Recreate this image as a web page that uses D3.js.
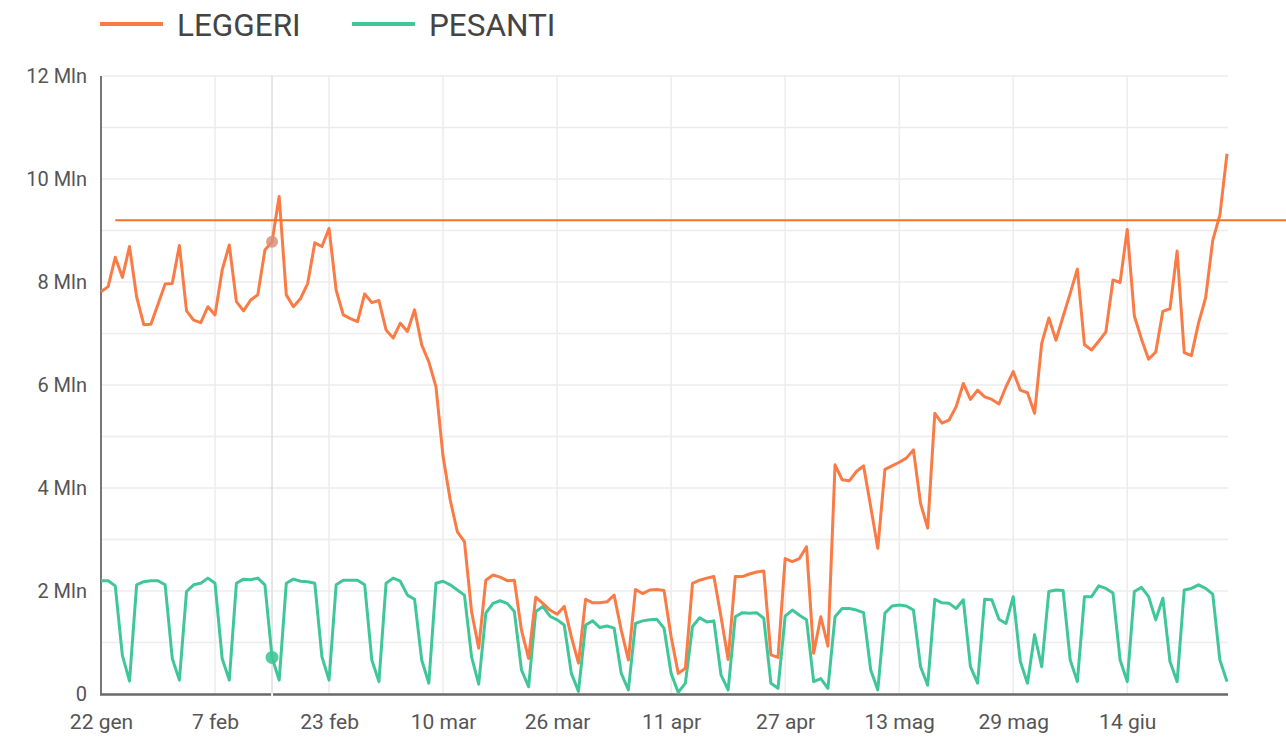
<!DOCTYPE html>
<html><head><meta charset="utf-8">
<script src="https://cdn.jsdelivr.net/npm/d3@7"></script>
<style>
body{margin:0;background:#fff}
svg{display:block;font-family:Roboto,"Noto Sans",sans-serif}
</style>
</head><body>
<svg id="chart" width="1286" height="739"></svg>
<script>
// ---- data ----
const startDate = "2020-01-22";
const endDate = "2020-06-28";
const seriesNames = ["LEGGERI", "PESANTI"];
const leggeri = [
  7.81, 7.91, 8.48, 8.09, 8.69, 7.71, 7.17, 7.18, 7.57, 7.96,
  7.97, 8.71, 7.44, 7.26, 7.21, 7.52, 7.36, 8.23, 8.72, 7.62,
  7.44, 7.65, 7.75, 8.62, 8.78, 9.66, 7.75, 7.52, 7.68, 7.97,
  8.76, 8.69, 9.04, 7.84, 7.36, 7.29, 7.23, 7.77, 7.60, 7.64,
  7.07, 6.91, 7.20, 7.04, 7.46, 6.78, 6.45, 5.97, 4.61, 3.77,
  3.15, 2.96, 1.60, 0.89, 2.21, 2.31, 2.27, 2.20, 2.21, 1.24,
  0.69, 1.88, 1.76, 1.63, 1.55, 1.70, 1.11, 0.60, 1.84, 1.77,
  1.77, 1.79, 1.92, 1.24, 0.66, 2.03, 1.95, 2.02, 2.03, 2.01,
  1.11, 0.40, 0.50, 2.15, 2.21, 2.25, 2.28, 1.50, 0.67, 2.28,
  2.28, 2.33, 2.37, 2.39, 0.76, 0.71, 2.63, 2.57, 2.63, 2.86,
  0.79, 1.50, 0.93, 4.45, 4.16, 4.14, 4.32, 4.43, 3.64, 2.83,
  4.36, 4.43, 4.50, 4.58, 4.74, 3.70, 3.22, 5.45, 5.26, 5.32,
  5.58, 6.03, 5.72, 5.90, 5.77, 5.72, 5.63, 5.97, 6.26, 5.90,
  5.85, 5.45, 6.81, 7.30, 6.87, 7.33, 7.78, 8.25, 6.78, 6.68,
  6.85, 7.03, 8.04, 7.99, 9.02, 7.34, 6.89, 6.50, 6.64, 7.43,
  7.48, 8.60, 6.63, 6.57, 7.20, 7.69, 8.81, 9.30, 10.49
];
const pesanti = [
  2.20, 2.20, 2.10, 0.75, 0.25, 2.12, 2.18, 2.20, 2.20, 2.12,
  0.69, 0.27, 1.99, 2.12, 2.15, 2.25, 2.15, 0.69, 0.27, 2.15,
  2.23, 2.22, 2.25, 2.12, 0.71, 0.27, 2.15, 2.23, 2.19, 2.18,
  2.15, 0.72, 0.27, 2.12, 2.21, 2.21, 2.21, 2.12, 0.66, 0.24,
  2.15, 2.25, 2.19, 1.92, 1.84, 0.66, 0.21, 2.15, 2.19, 2.12,
  2.02, 1.92, 0.72, 0.19, 1.57, 1.76, 1.81, 1.76, 1.60, 0.47,
  0.14, 1.60, 1.70, 1.51, 1.44, 1.34, 0.40, 0.05, 1.34, 1.42,
  1.29, 1.32, 1.28, 0.40, 0.08, 1.37, 1.42, 1.44, 1.45, 1.28,
  0.40, 0.03, 0.21, 1.31, 1.48, 1.40, 1.42, 0.37, 0.08, 1.50,
  1.58, 1.57, 1.58, 1.47, 0.21, 0.11, 1.51, 1.63, 1.53, 1.44,
  0.24, 0.30, 0.11, 1.50, 1.66, 1.66, 1.63, 1.58, 0.47, 0.08,
  1.57, 1.71, 1.73, 1.71, 1.63, 0.53, 0.17, 1.84, 1.77, 1.76,
  1.66, 1.83, 0.53, 0.21, 1.84, 1.83, 1.45, 1.37, 1.89, 0.63,
  0.21, 1.15, 0.53, 1.99, 2.02, 2.01, 0.66, 0.24, 1.89, 1.89,
  2.10, 2.05, 1.96, 0.66, 0.24, 1.99, 2.07, 1.89, 1.44, 1.86,
  0.63, 0.24, 2.02, 2.05, 2.12, 2.05, 1.94, 0.66, 0.24
];
const tickDates = ["2020-01-22","2020-02-07","2020-02-23","2020-03-10","2020-03-26",
                   "2020-04-11","2020-04-27","2020-05-13","2020-05-29","2020-06-14"];
const gridValues = [0,1,2,3,4,5,6,7,8,9,10,11,12];
const labelValues = [0,2,4,6,8,10,12];
const refValue = 9.2;
const refStart = "2020-01-24";
const hoverDate = "2020-02-15";

// ---- setup ----
const W = 1286, H = 739;
const plot = {left: 101, right: 1227, top: 76, bottom: 694};
const parse = d3.timeParse("%Y-%m-%d");
const dates = d3.timeDay.range(parse(startDate), d3.timeDay.offset(parse(endDate), 1));

const it = d3.timeFormatLocale({
  dateTime: "%A %e %B %Y, %X", date: "%d/%m/%Y", time: "%H:%M:%S",
  periods: ["AM","PM"],
  days: ["Domenica","Lunedì","Martedì","Mercoledì","Giovedì","Venerdì","Sabato"],
  shortDays: ["Dom","Lun","Mar","Mer","Gio","Ven","Sab"],
  months: ["Gennaio","Febbraio","Marzo","Aprile","Maggio","Giugno","Luglio","Agosto","Settembre","Ottobre","Novembre","Dicembre"],
  shortMonths: ["gen","feb","mar","apr","mag","giu","lug","ago","set","ott","nov","dic"]
});
const fmtDate = it.format("%-d %b");

const x = d3.scaleTime().domain([parse(startDate), parse(endDate)]).range([plot.left, plot.right]);
const y = d3.scaleLinear().domain([0, 12]).range([plot.bottom, plot.top]);

const colors = {leggeri: "#fa7b45", pesanti: "#40c798", ref: "#f27423"};
const svg = d3.select("#chart");

// gridlines
svg.append("g").selectAll("line").data(gridValues).join("line")
  .attr("x1", plot.left).attr("x2", plot.right + 1)
  .attr("y1", d => y(d)).attr("y2", d => y(d))
  .attr("stroke", "#ececec").attr("stroke-width", 1.5);
svg.append("g").selectAll("line").data(tickDates).join("line")
  .attr("x1", d => x(parse(d))).attr("x2", d => x(parse(d)))
  .attr("y1", plot.top).attr("y2", plot.bottom)
  .attr("stroke", "#ececec").attr("stroke-width", 1.5);

// hover crosshair
svg.append("line")
  .attr("x1", x(parse(hoverDate))).attr("x2", x(parse(hoverDate)))
  .attr("y1", plot.top).attr("y2", plot.bottom)
  .attr("stroke", "#dedede").attr("stroke-width", 1.5);

// y axis labels
const yAxis = d3.axisLeft(y).tickValues(labelValues).tickSize(0).tickPadding(14)
  .tickFormat(d => d === 0 ? "0" : d + " Mln");
const gy = svg.append("g").attr("transform", `translate(${plot.left},0)`).call(yAxis);
gy.select(".domain").remove();
gy.selectAll("text").attr("font-size", 20).attr("fill", "#555").attr("font-family", "Roboto, sans-serif");

// x axis labels
const xAxis = d3.axisBottom(x).tickValues(tickDates.map(parse)).tickSize(0).tickPadding(20)
  .tickFormat(fmtDate);
const gx = svg.append("g").attr("transform", `translate(0,${plot.bottom})`).call(xAxis);
gx.select(".domain").remove();
gx.selectAll("text").attr("font-size", 21).attr("fill", "#555").attr("font-family", "Roboto, sans-serif");

// axis lines
svg.append("line").attr("x1", plot.left).attr("x2", plot.left)
  .attr("y1", plot.top).attr("y2", plot.bottom + 1)
  .attr("stroke", "#777").attr("stroke-width", 2);
svg.append("line").attr("x1", plot.left - 1).attr("x2", plot.right + 1)
  .attr("y1", plot.bottom + 0.5).attr("y2", plot.bottom + 0.5)
  .attr("stroke", "#6a6a6a").attr("stroke-width", 2.5);
svg.append("line")
  .attr("x1", x(parse(hoverDate))).attr("x2", x(parse(hoverDate)))
  .attr("y1", plot.bottom - 1).attr("y2", plot.bottom + 3)
  .attr("stroke", "#f4f4f4").attr("stroke-width", 2);

// lines
const line = d3.line().x((d, i) => x(dates[i])).y(d => y(d));
svg.append("path").datum(pesanti).attr("d", line)
  .attr("fill", "none").attr("stroke", colors.pesanti).attr("stroke-width", 3)
  .attr("stroke-linejoin", "round");
svg.append("path").datum(leggeri).attr("d", line)
  .attr("fill", "none").attr("stroke", colors.leggeri).attr("stroke-width", 3)
  .attr("stroke-linejoin", "round");

// reference line
svg.append("line")
  .attr("x1", x(parse(refStart))).attr("x2", W)
  .attr("y1", y(refValue)).attr("y2", y(refValue))
  .attr("stroke", colors.ref).attr("stroke-width", 2);

// hover dots
const hi = dates.findIndex(d => +d === +parse(hoverDate));
svg.append("circle").attr("cx", x(dates[hi])).attr("cy", y(leggeri[hi])).attr("r", 6)
  .attr("fill", "#d9907a").attr("opacity", 0.85);
svg.append("circle").attr("cx", x(dates[hi])).attr("cy", y(pesanti[hi])).attr("r", 6.5)
  .attr("fill", colors.pesanti).attr("opacity", 0.9);

// legend
const legend = svg.append("g");
const legItems = [
  {name: seriesNames[0], color: colors.leggeri, x: 100},
  {name: seriesNames[1], color: colors.pesanti, x: 352}
];
legItems.forEach(d => {
  legend.append("line").attr("x1", d.x).attr("x2", d.x + 63)
    .attr("y1", 24).attr("y2", 24).attr("stroke", d.color).attr("stroke-width", 4);
  legend.append("text").attr("x", d.x + 77).attr("y", 36).text(d.name)
    .attr("font-size", 31.5).attr("fill", "#444").attr("font-family", "Roboto, sans-serif");
});
</script>
</body></html>
